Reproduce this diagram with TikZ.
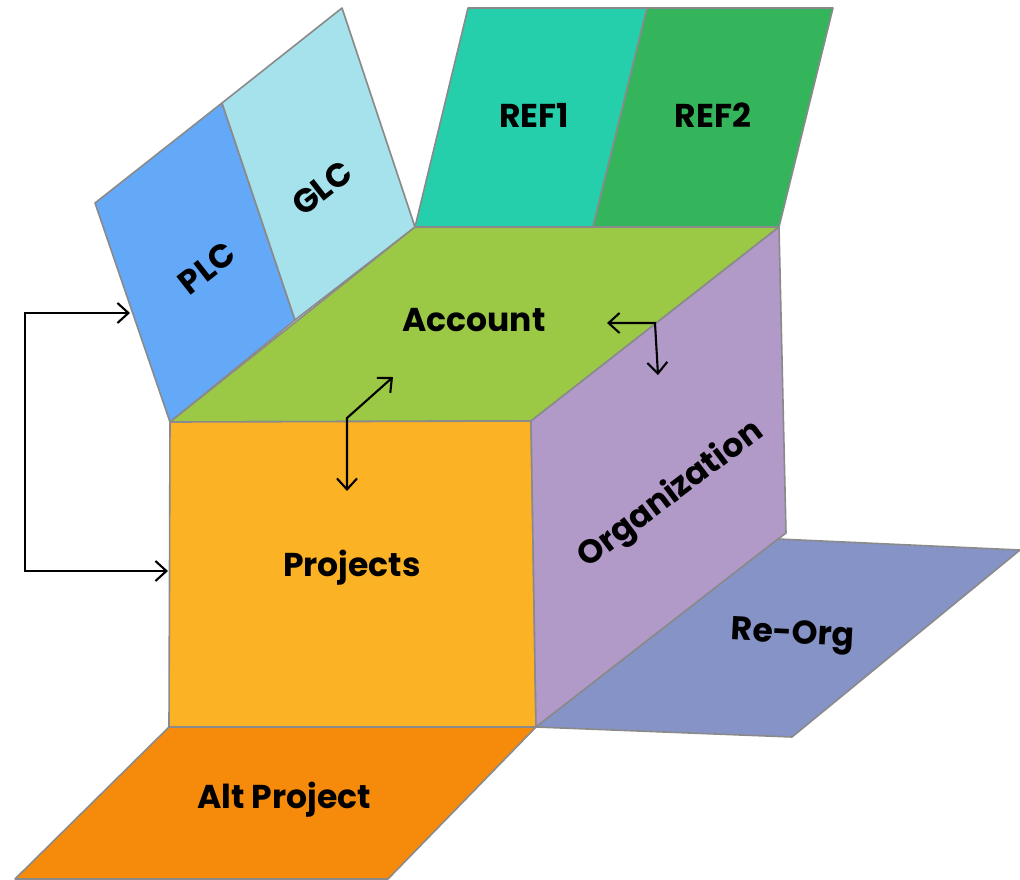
\documentclass[tikz,border=0pt]{standalone}
\usepackage{fontspec}
\setmainfont{Poppins}
\usetikzlibrary{arrows.meta}
\definecolor{cPLC}{HTML}{64A8F8}
\definecolor{cGLC}{HTML}{A6E2EC}
\definecolor{cREFa}{HTML}{25CFAC}
\definecolor{cREFb}{HTML}{34B55C}
\definecolor{cAcc}{HTML}{9BC946}
\definecolor{cProj}{HTML}{FBB224}
\definecolor{cOrg}{HTML}{B199C8}
\definecolor{cReOrg}{HTML}{8593C7}
\definecolor{cAlt}{HTML}{F58A0B}
\definecolor{cEdge}{HTML}{8A8A8A}
\tikzset{
  face/.style={draw=cEdge, line width=1.6pt, line join=round},
  lbl/.style={font=\fontsize{33}{38}\selectfont\bfseries, text=black, inner sep=0pt},
  conn/.style={draw=black, line width=2.1pt, {Straight Barb[length=11pt,width=20pt,line width=2.1pt]}-{Straight Barb[length=11pt,width=20pt,line width=2.1pt]}},
}
\begin{document}
\begin{tikzpicture}[x=1pt,y=-1pt]
\useasboundingbox (0,0) rectangle (1020,879);
% corners
\coordinate (pa) at (95,203);
\coordinate (pb) at (222,103);
\coordinate (pc) at (295,320);
\coordinate (ftl) at (170,422);
\coordinate (gb) at (342,8);
\coordinate (ttl) at (415,227);
\coordinate (ra) at (468,8);
\coordinate (rb) at (647,8);
\coordinate (rc) at (833,8);
\coordinate (rm) at (593,227);
\coordinate (ttr) at (779,227);
\coordinate (ftr) at (531,421);
\coordinate (fbr) at (536,727);
\coordinate (fbl) at (169,727);
\coordinate (obr) at (786,533);
\coordinate (oa) at (778,539);
\coordinate (ob) at (1020,550);
\coordinate (oc) at (792,737);
\coordinate (aa) at (388,879);
\coordinate (ab) at (15,879);
% faces
\filldraw[face, fill=cPLC] (pa) -- (pb) -- (pc) -- (ftl) -- cycle;
\filldraw[face, fill=cGLC] (pb) -- (gb) -- (ttl) -- (pc) -- cycle;
\filldraw[face, fill=cREFa] (ttl) -- (ra) -- (rb) -- (rm) -- cycle;
\filldraw[face, fill=cREFb] (rm) -- (rb) -- (rc) -- (ttr) -- cycle;
\filldraw[face, fill=cAcc] (ftl) -- (ttl) -- (ttr) -- (ftr) -- cycle;
\filldraw[face, fill=cProj] (ftl) -- (ftr) -- (fbr) -- (fbl) -- cycle;
\filldraw[face, fill=cOrg] (ftr) -- (ttr) -- (obr) -- (fbr) -- cycle;
\filldraw[face, fill=cReOrg] (fbr) -- (oa) -- (ob) -- (oc) -- cycle;
\filldraw[face, fill=cAlt] (fbl) -- (fbr) -- (aa) -- (ab) -- cycle;
% labels
\node[lbl, rotate=38] (plc) at (207,268) {PLC};
\node[lbl, rotate=38] (glc) at (322,188) {GLC};
\node[lbl] (ref1) at (534,115) {REF1};
\node[lbl] (ref2) at (713,115) {REF2};
\node[lbl] (acc) at (474,320) {Account};
\node[lbl] (proj) at (352,568) {Projects};
\node[lbl, rotate=37] (org) at (671,495) {Organization};
\node[lbl, rotate=-3] (reorg) at (793,636) {Re-Org};
\node[lbl] (alt) at (284,800) {Alt Project};
% connectors
\coordinate (l1) at (130,313);
\coordinate (l2) at (168,571);
\coordinate (a1) at (393,377);
\coordinate (a0) at (347,418);
\coordinate (a2) at (347,491);
\coordinate (b1) at (607,323);
\coordinate (b0) at (655,323);
\coordinate (b2) at (658,375);
\draw[conn] (l1) -- (25,313) -- (25,571) -- (l2);
\draw[conn] (a1) -- (a0) -- (a2);
\draw[conn] (b1) -- (b0) -- (b2);
\end{tikzpicture}
\end{document}
